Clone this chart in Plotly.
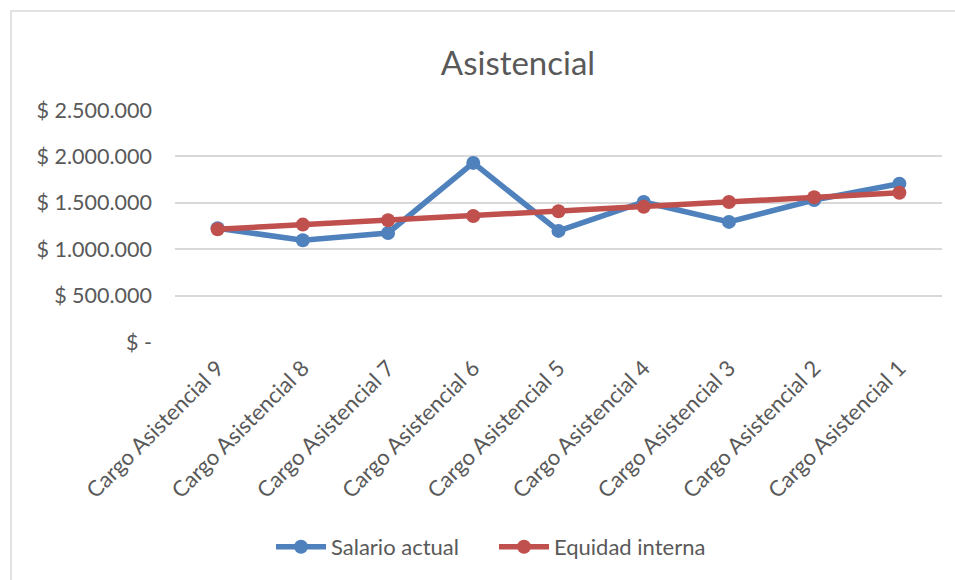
import plotly.graph_objects as go

categories = ["Cargo Asistencial 9", "Cargo Asistencial 8", "Cargo Asistencial 7",
              "Cargo Asistencial 6", "Cargo Asistencial 5", "Cargo Asistencial 4",
              "Cargo Asistencial 3", "Cargo Asistencial 2", "Cargo Asistencial 1"]
salario_actual = [1225000, 1097000, 1175000, 1930000, 1197000, 1509000, 1294000, 1530000, 1706000]
equidad_interna = [1215000, 1265000, 1312000, 1358000, 1409000, 1458000, 1509000, 1560000, 1608000]
y_tickvals = [0, 500000, 1000000, 1500000, 2000000, 2500000]
y_ticktext = ["$ -", "$ 500.000", "$ 1.000.000", "$ 1.500.000", "$ 2.000.000", "$ 2.500.000"]

TXT = "#595959"
FONT = "Lato"

fig = go.Figure()
fig.add_trace(go.Scatter(x=categories, y=salario_actual, name="Salario actual",
                         mode="lines+markers",
                         line=dict(color="#4F81BD", width=5.5),
                         marker=dict(color="#4F81BD", size=14)))
fig.add_trace(go.Scatter(x=categories, y=equidad_interna, name="Equidad interna",
                         mode="lines+markers",
                         line=dict(color="#C0504D", width=5.5),
                         marker=dict(color="#C0504D", size=14)))

fig.update_layout(
    width=955, height=580,
    margin=dict(l=175, r=13, t=110, b=238),
    paper_bgcolor="white", plot_bgcolor="white",
    font=dict(family=FONT, color=TXT, size=21),
    title=dict(text="Asistencial", x=518/955, xanchor="center", xref="container",
               y=1 - 63/580, yanchor="middle", yref="container",
               font=dict(family=FONT, size=33, color=TXT)),
    showlegend=True,
    legend=dict(orientation="h", xref="container", yref="container",
                x=494/955, xanchor="center", y=1 - 547/580, yanchor="middle",
                font=dict(family=FONT, size=22, color=TXT), itemwidth=50,
                entrywidth=158, entrywidthmode="pixels"),
    xaxis=dict(type="category", range=[-0.5, 8.5], tickangle=-45,
               showgrid=False, showline=False, ticks="", zeroline=False,
               ticklabelstandoff=8,
               tickfont=dict(family=FONT, size=22, color=TXT)),
    yaxis=dict(range=[0, 2500000], tickvals=y_tickvals, ticktext=y_ticktext,
               showgrid=True, gridcolor="#D9D9D9", gridwidth=1.5,
               zeroline=False, showline=False, ticks="",
               ticklabelstandoff=22,
               tickfont=dict(family=FONT, size=21.5, color=TXT)),
    shapes=[dict(type="rect", xref="paper", yref="paper",
                 x0=(11 - 175) / 767, x1=(970 - 175) / 767,
                 y0=(342 - 600) / 232, y1=(342 - 11) / 232,
                 line=dict(color="#D9D9D9", width=1.5), fillcolor="rgba(0,0,0,0)",
                 layer="below")],
)

fig.write_html("out.html")
